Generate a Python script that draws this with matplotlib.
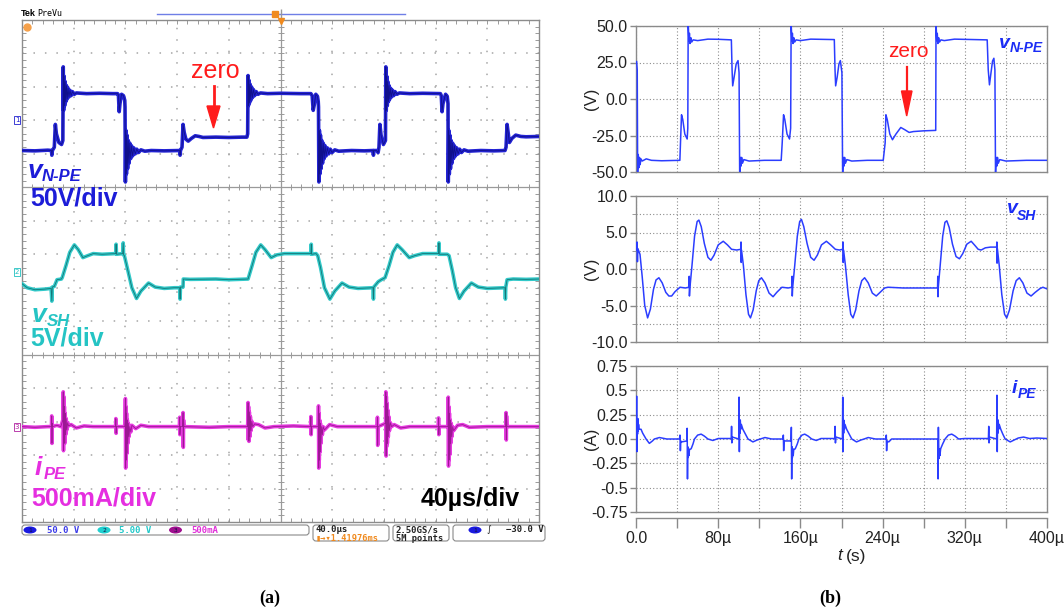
import numpy as np
import matplotlib
matplotlib.use('Agg')
import matplotlib.pyplot as plt
from matplotlib.patches import FancyBboxPatch, Ellipse, Polygon

# ---------------- DATA ----------------
# (a) oscilloscope traces: (time in us, value)
scope_vnpe = [
    (0, -45), (10, -45.5), (20, -44.5), (22.8, -45), (23.1, -52), (23.5, -45), (25.0, -40), (25.8, -6),
    (26.6, -20), (28.5, -33), (30.6, -36), (31.6, -30), (31.9, 80), (32.2, 15), (32.6, 66), (33.0, 22),
    (33.4, 58), (33.9, 28), (34.4, 52), (35.0, 32), (35.6, 48), (36.3, 35), (37.1, 45), (38.0, 37),
    (39.0, 43), (40.5, 39), (42, 41), (50, 40), (60, 40.5), (70, 40), (73.9, 40), (74.6, 38), (75.2, 13),
    (75.8, 25), (77, 39), (78.5, 37), (79.5, 30), (79.7, 20), (80.0, -92), (80.4, -15), (80.8, -80),
    (81.2, -22), (81.7, -72), (82.2, -30), (82.8, -64), (83.4, -34), (84.1, -57), (84.8, -38), (85.6, -53),
    (86.5, -41), (87.6, -50), (88.8, -43), (90.2, -48), (92, -44), (95, -46), (100, -45), (110, -45.5),
    (122.0, -45), (122.3, -52), (122.6, -45), (123.8, -40), (124.6, -6), (125.5, -18), (126.8, -28),
    (128.6, -31), (131, -27), (134, -23), (137, -24), (140, -25.5), (150, -25), (160, -25.5), (170, -25),
    (174.0, -25), (174.6, -20), (174.9, 67), (175.2, 22), (175.6, 60), (176.0, 26), (176.5, 54), (177.0, 30),
    (177.6, 50), (178.3, 34), (179.1, 46), (180.0, 37), (181.2, 43), (182.6, 39), (184.5, 41), (190, 40),
    (200, 40.5), (215, 40), (223.5, 40), (224.5, 37), (225.3, 15), (226.2, 24), (227.3, 39), (228.6, 36),
    (229.2, 28), (229.4, 20), (229.7, -92), (230.1, -15), (230.5, -80), (230.9, -22), (231.4, -72),
    (231.9, -30), (232.5, -64), (233.1, -34), (233.8, -57), (234.5, -38), (235.3, -53), (236.2, -41),
    (237.3, -50), (238.5, -43), (239.9, -48), (242, -44), (245, -46), (255, -45), (265, -45.5),
    (271.6, -45), (271.9, -52), (272.2, -45), (274.3, -45), (275.5, -48), (276.2, -40), (276.9, -6),
    (277.8, -22), (279.6, -36), (281.2, -30), (281.5, 80), (281.8, 15), (282.2, 66), (282.6, 22),
    (283.0, 58), (283.5, 28), (284.0, 52), (284.6, 32), (285.2, 48), (285.9, 35), (286.7, 45), (287.6, 37),
    (288.6, 43), (290.1, 39), (292, 41), (300, 40), (310, 40.5), (323.7, 40), (324.4, 37), (325.0, 13),
    (325.7, 25), (327.7, 39), (329.0, 36), (329.6, 25), (329.8, -92), (330.2, -15), (330.6, -80),
    (331.0, -22), (331.5, -72), (332.0, -30), (332.6, -64), (333.2, -34), (333.9, -57), (334.6, -38),
    (335.4, -53), (336.3, -41), (337.4, -50), (338.6, -43), (340.0, -48), (342, -44), (345, -46),
    (355, -45), (365, -45.5), (373.7, -45), (374.5, -40), (375.3, -6), (376.2, -20), (377.1, -33),
    (379, -27), (382, -22), (386, -24), (390, -24.5), (400, -24),
]
scope_vsh = [
    (0, -1.9), (4, -2.5), (10, -2.8), (18, -2.7), (22.5, -2.6), (23.1, -4.5), (23.4, -2.4), (25, -2.3),
    (27.1, -1.3), (30.5, -1.2), (31.1, -1.0), (34, 0.8), (37, 2.8), (40.5, 3.9), (43.5, 3.2), (47.1, 2.0),
    (51, 2.3), (55.1, 2.6), (62, 2.5), (72.5, 2.6), (72.8, 4.0), (73.1, 2.5), (77.9, 2.6), (78.3, 4.2),
    (78.6, 2.4), (79.2, 2.3), (82, 0.0), (85, -2.5), (88.6, -4.1), (92, -3.0), (97.9, -1.8), (103, -2.4),
    (110, -2.6), (118, -2.5), (122, -2.5), (122.3, -4.2), (122.6, -2.4), (124.6, -2.4), (124.8, -1.2),
    (130, -1.25), (150, -1.2), (160, -1.3), (174.9, -1.2), (178, 0.8), (181, 2.8), (184.7, 3.9),
    (188, 3.2), (192.8, 2.0), (197, 2.4), (203, 2.6), (215, 2.6), (223.5, 2.6), (223.8, 4.0), (224.1, 2.5),
    (227.5, 2.6), (228.8, 2.3), (231, 0.5), (234, -2.5), (238.2, -4.2), (242, -3.0), (247.6, -1.8),
    (253, -2.4), (260, -2.6), (271.6, -2.5), (271.9, -4.2), (272.2, -2.4), (275.6, -1.6), (278, -1.3),
    (280.9, -1.0), (284, 0.8), (287, 2.8), (290.3, 3.9), (294, 3.2), (299.6, 2.0), (304, 2.3), (310, 2.6),
    (322.3, 2.6), (322.6, 4.2), (322.9, 2.5), (329, 2.5), (330.4, 2.3), (333, 0.0), (335.5, -2.5),
    (338.4, -4.1), (342, -3.0), (347.7, -1.8), (353, -2.4), (360, -2.6), (373.7, -2.5), (374, -4.2),
    (374.3, -2.4), (375.3, -1.3), (380, -1.2), (390, -1.25), (400, -1.2),
]
scope_ipe = [
    (0, 0.0), (10, -0.01), (20, 0.0), (22.8, 0.0), (23.0, 0.16), (23.2, -0.25), (23.4, 0.05), (23.7, 0.0),
    (27, 0.02), (30, 0.0), (31.6, 0.1), (31.9, 0.52), (32.1, -0.36), (32.3, 0.45), (32.5, -0.2), (32.8, 0.3),
    (33.1, -0.25), (33.4, 0.2), (33.8, -0.12), (34.2, 0.12), (34.7, -0.05), (35.3, 0.06), (36, 0.01),
    (38, 0.03), (42, -0.02), (48, 0.01), (55, 0.0), (72.4, 0.0), (72.6, 0.12), (72.8, -0.1), (73.1, 0.0),
    (79.5, 0.0), (79.8, 0.1), (80.0, 0.42), (80.2, -0.62), (80.4, 0.3), (80.6, -0.5), (80.9, 0.2),
    (81.2, -0.4), (81.5, 0.1), (81.9, -0.25), (82.3, 0.05), (82.8, -0.15), (83.4, 0.0), (84.2, -0.08),
    (85, 0.02), (88, -0.03), (92, 0.02), (98, 0.0), (121.8, 0.0), (122.0, 0.14), (122.2, -0.12),
    (122.5, 0.0), (124.3, 0.0), (124.6, 0.21), (124.8, -0.31), (125.0, 0.1), (125.3, 0.0), (145, -0.01),
    (160, 0.0), (174.6, 0.0), (174.9, 0.36), (175.1, -0.2), (175.3, 0.3), (175.6, -0.22), (175.9, 0.22),
    (176.3, -0.15), (176.7, 0.15), (177.2, -0.06), (177.8, 0.08), (178.5, 0.0), (180, 0.04), (183, 0.03),
    (188, -0.02), (195, 0.0), (210, 0.01), (223.3, 0.0), (223.5, 0.15), (223.7, -0.12), (224.0, 0.0),
    (229.2, 0.0), (229.4, 0.31), (229.6, -0.62), (229.8, 0.2), (230.0, -0.5), (230.3, 0.1), (230.6, -0.38),
    (230.9, 0.05), (231.3, -0.25), (231.8, 0.0), (232.4, -0.12), (233, 0.0), (234, -0.05), (238, 0.03),
    (244, 0.0), (274.8, 0.0), (275.0, 0.14), (275.2, -0.28), (275.5, 0.0), (281.3, 0.05), (281.5, 0.52),
    (281.7, -0.44), (281.9, 0.45), (282.1, -0.3), (282.4, 0.35), (282.7, -0.25), (283.0, 0.25),
    (283.4, -0.15), (283.8, 0.15), (284.3, -0.06), (285, 0.06), (286, 0.0), (288, 0.03), (293, -0.02),
    (300, 0.0), (322.1, 0.0), (322.3, 0.13), (322.5, -0.12), (322.8, 0.0), (329.6, 0.0), (329.8, 0.44),
    (330.0, -0.59), (330.2, 0.3), (330.4, -0.5), (330.7, 0.2), (331.0, -0.42), (331.3, 0.1), (331.7, -0.25),
    (332.1, 0.05), (332.6, -0.15), (333.2, 0.0), (334, -0.06), (337, 0.02), (341, 0.03), (346, -0.01),
    (360, 0.0), (374.3, 0.0), (374.5, 0.21), (374.7, -0.2), (374.9, 0.16), (375.2, 0.0), (390, 0.0), (400, 0.0),
]

# (b) simulation traces: (time in us, value)
sim_vnpe = [
    (0.6, 25.6), (1.2, 20), (1.6, -50), (2.2, -38), (2.8, -47), (3.4, -40), (4.0, -45), (4.8, -41),
    (6, -42.5), (10, -41), (15, -42), (25, -42.3), (42.7, -42), (43.3, -30), (44.3, -10.8), (45.5, -14),
    (47.5, -24), (49.8, -27.4), (50.4, -20), (50.8, 52), (51.5, 40), (52, 45), (52.6, 38), (53.3, 42),
    (54.2, 39), (55.6, 40.5), (60, 40), (70, 41), (80, 40.9), (92.8, 40.5), (93.5, 20), (94.1, 9),
    (95.5, 15), (97.5, 24), (99.3, 26.3), (100.3, 18), (100.9, -52), (101.5, -40), (102.1, -46),
    (102.8, -40), (103.6, -44), (105, -41.5), (110, -42.5), (125, -42), (141.3, -42), (142.3, -30),
    (143.6, -10.8), (144.8, -14), (147, -24), (149.4, -27.4), (150.5, -20), (151.0, 52), (151.7, 40),
    (152.2, 45), (152.8, 38), (153.5, 42), (154.4, 39), (155.8, 40.5), (160, 40), (170, 41), (193, 40.7),
    (193.7, 20), (194.3, 9), (195.8, 15), (197.5, 24), (198.9, 26.3), (200.4, 18), (201.1, -52),
    (201.7, -40), (202.3, -46), (203.0, -40), (203.8, -44), (205.2, -41.5), (210, -42.5), (225, -42),
    (240.6, -42), (242.5, -30), (243.2, -10.8), (244.5, -14), (247, -24), (249.6, -27.9), (253, -24),
    (257.7, -19.5), (261.5, -21), (265.8, -22.9), (270, -22.3), (280, -21.8), (291.7, -21.5), (292.0, 52),
    (292.7, 40), (293.2, 45), (293.8, 38), (294.5, 42), (295.4, 39), (296.8, 40.5), (300, 40), (310, 41),
    (341.8, 40.5), (342.8, 20), (344, 9.7), (345.5, 18), (347, 26), (348.3, 27.9), (349.3, 20),
    (349.9, -52), (350.5, -40), (351.1, -46), (351.8, -40), (352.6, -44), (354, -41.5), (360, -42.5),
    (380, -42), (400, -42),
]
sim_vsh = [
    (0.6, 2.6), (1.0, 3.7), (1.4, 1.0), (1.8, 2.8), (2.3, 2.6), (3.9, 2.0), (6, -1.0), (8.5, -5.0),
    (11.3, -6.7), (14, -5.5), (17, -2.8), (19.5, -1.5), (22.3, -1.2), (25.5, -1.9), (29, -3.2), (32, -3.7),
    (34.7, -3.7), (38, -3.1), (42.8, -2.5), (48, -2.6), (51.5, -2.5), (51.8, -1.0), (52.0, -3.7),
    (52.5, -2.5), (54.5, 0.5), (57, 4.5), (59.5, 6.5), (61.2, 6.7), (63.5, 5.8), (66.5, 3.5), (70, 1.6),
    (72.9, 1.2), (76, 1.9), (80, 3.3), (84.9, 3.8), (89, 3.3), (93, 2.7), (98, 2.6), (102, 2.7),
    (102.2, 3.7), (102.4, 0.9), (102.7, 2.6), (104.5, 0.5), (107, -3.5), (109.5, -6.2), (111.4, -6.7),
    (114, -5.6), (117, -3.0), (119.5, -1.6), (122.1, -1.2), (125.5, -1.9), (129.5, -3.3), (133.4, -3.8),
    (137, -3.2), (142, -2.5), (148, -2.6), (151.6, -2.5), (151.9, -1.0), (152.1, -3.7), (152.5, -2.5),
    (154.5, 0.5), (157, 4.5), (159.3, 6.5), (161, 6.8), (163.3, 5.8), (166.5, 3.5), (170, 1.6),
    (173.3, 1.2), (176.5, 1.9), (180.5, 3.3), (185.3, 3.8), (189.5, 3.3), (194, 2.7), (198, 2.6),
    (201.3, 2.7), (201.5, 3.7), (201.7, 0.9), (202, 2.6), (203.8, 0.5), (206.5, -3.5), (209, -6.2),
    (211.2, -6.7), (213.8, -5.6), (217, -3.0), (219.7, -1.6), (222.5, -1.2), (226, -1.9), (230, -3.3),
    (233.8, -3.7), (237.5, -3.2), (242, -2.6), (245.2, -2.5), (260, -2.6), (280, -2.6), (293.5, -2.6),
    (293.7, -1.0), (293.9, -3.8), (294.2, -2.5), (296, 0.5), (298.5, 4.5), (300.7, 6.4), (302.5, 6.6),
    (304.8, 5.7), (308, 3.4), (311.5, 1.7), (314.8, 1.4), (318, 2.1), (322, 3.4), (326.2, 3.8),
    (330, 3.2), (333, 2.7), (335.9, 2.6), (340, 2.9), (345, 3.0), (351, 3.0), (351.2, 3.7), (351.4, 0.8),
    (351.7, 2.8), (353.5, 0.5), (356, -3.5), (358.7, -6.2), (360.8, -6.7), (363.5, -5.6), (367, -3.0),
    (370, -1.6), (373.1, -1.2), (376.5, -1.9), (380.5, -3.3), (384.5, -3.7), (388.5, -3.2), (393, -2.7),
    (396, -2.5), (399.5, -2.7),
]
sim_ipe = [
    (0.3, 0.0), (0.6, 0.44), (0.9, -0.13), (1.2, 0.2), (1.5, 0.05), (1.8, 0.21), (2.1, 0.08), (2.5, 0.15),
    (3, 0.1), (4.9, 0.1), (6.5, 0.06), (9.8, 0.0), (13, -0.045), (16, -0.02), (17.9, 0.0), (22.8, 0.015),
    (30, 0.0), (42.3, 0.0), (42.8, 0.04), (43.2, -0.12), (43.6, -0.02), (44.2, -0.03), (49.5, -0.02),
    (49.8, 0.11), (50.1, -0.41), (50.4, -0.08), (50.8, -0.19), (51.2, -0.1), (51.6, -0.17), (52, -0.11),
    (53.7, -0.1), (55.5, -0.05), (56.9, 0.0), (60, 0.04), (63.4, 0.05), (66.5, 0.03), (70, 0.0),
    (74.8, -0.015), (80, 0.005), (92.7, 0.005), (93.0, 0.13), (93.3, -0.04), (93.7, 0.02), (100.0, 0.0),
    (100.3, 0.43), (100.6, -0.13), (100.9, 0.2), (101.2, 0.06), (101.5, 0.19), (101.9, 0.1), (102.5, 0.15),
    (104, 0.1), (106.5, 0.05), (109, 0.0), (113.8, -0.03), (118, -0.01), (121, 0.0), (125.5, 0.015),
    (132, 0.0), (143, 0.0), (143.4, 0.04), (143.7, -0.12), (144.1, -0.02), (150.9, -0.02), (151.2, 0.12),
    (151.5, -0.41), (151.8, -0.08), (152.2, -0.19), (152.6, -0.1), (153, -0.17), (153.5, -0.11),
    (155, -0.1), (157, -0.05), (158.5, 0.0), (161.5, 0.04), (164.2, 0.05), (167.5, 0.03), (171, 0.0),
    (175.5, -0.015), (180, 0.005), (193.5, 0.005), (193.8, 0.13), (194.1, -0.04), (194.5, 0.02),
    (200.9, 0.0), (201.2, 0.43), (201.5, -0.13), (201.8, 0.2), (202.1, 0.06), (202.4, 0.19), (202.8, 0.1),
    (203.4, 0.15), (205, 0.1), (207.5, 0.05), (210, 0.0), (214.6, -0.03), (219, -0.01), (222, 0.0),
    (226, 0.015), (233, 0.0), (243.3, 0.0), (243.6, 0.04), (243.9, -0.12), (244.3, -0.02), (246, -0.03),
    (248.8, 0.0), (260, 0.0), (293.7, 0.0), (294.0, -0.41), (294.3, 0.12), (294.6, -0.1), (294.9, -0.2),
    (295.3, -0.1), (295.8, -0.17), (296.5, -0.1), (298.5, -0.05), (300.8, 0.0), (304, 0.04), (307.3, 0.05),
    (310.5, 0.03), (314, 0.0), (320, 0.005), (343, 0.005), (343.3, 0.13), (343.6, -0.04), (344, 0.02),
    (351.0, 0.0), (351.3, 0.45), (351.6, -0.13), (351.9, 0.2), (352.2, 0.06), (352.5, 0.19), (352.9, 0.1),
    (353.5, 0.15), (355, 0.1), (357, 0.05), (359.3, 0.0), (364.2, -0.03), (368, -0.01), (372, 0.01),
    (377.2, 0.02), (383, 0.005), (390, 0.01), (400, 0.005),
]

# scope settings (per division) and channel reference levels (divisions from bottom)
scope_scales = [50.0, 5.0, 0.5]
scope_offsets = [12.0, 7.5, 2.85]

# (b) axis ticks / labels
vnpe_ticks = [-50, -25, 0, 25, 50]
vnpe_labels = ['-50.0', '-25.0', '0.0', '25.0', '50.0']
vsh_ticks = [-10, -5, 0, 5, 10]
vsh_labels = ['-10.0', '-5.0', '0.0', '5.0', '10.0']
ipe_ticks = [-0.75, -0.5, -0.25, 0, 0.25, 0.5, 0.75]
ipe_labels = ['-0.75', '-0.5', '-0.25', '0.0', '0.25', '0.5', '0.75']
t_ticks = [0, 40, 80, 120, 160, 200, 240, 280, 320, 360, 400]
t_labels = ['0.0', '', '80\u00b5', '', '160\u00b5', '', '240\u00b5', '', '320\u00b5', '', '400\u00b5']

# ---------------- FIGURE ----------------
W, H = 1064, 615
fig = plt.figure(figsize=(W / 100, H / 100), dpi=100)
fig.patch.set_facecolor('white')


def fbox(x0, y0, x1, y1):
    return [x0 / W, 1 - y1 / H, (x1 - x0) / W, (y1 - y0) / H]


def xy(series):
    a = np.array(series, dtype=float)
    return a[:, 0], a[:, 1]


# ---------- (a) scope screen ----------
axA = fig.add_axes(fbox(22, 20, 539, 522))
axA.set_xlim(0, 400)
axA.set_ylim(0, 15)
for s in axA.spines.values():
    s.set_color('#8c8c8c')
    s.set_linewidth(1.0)
axA.set_xticks(np.arange(0, 401, 8), minor=True)
axA.set_yticks(np.arange(0, 15.01, 0.2), minor=True)
axA.set_xticks([])
axA.set_yticks([])
axA.tick_params(which='minor', direction='in', length=3, color='#9a9a9a', width=0.7,
                top=True, right=True, labelbottom=False, labelleft=False)
gcol = '#a5a5a5'
for k in range(1, 10):
    if k == 5:
        axA.axvline(200, color='#9a9a9a', lw=0.9, zorder=1)
    else:
        axA.axvline(40 * k, color=gcol, lw=1.1, ls=(0, (1, 6.5)), zorder=1)
for k in range(1, 15):
    if k in (5, 10):
        axA.axhline(k, color='#9a9a9a', lw=0.9, zorder=1)
    else:
        axA.axhline(k, color=gcol, lw=1.1, ls=(0, (1, 6.5)), zorder=1)
tk_y = np.arange(0.2, 15, 0.2)
axA.plot(np.full(tk_y.shape, 200.0), tk_y, ls='none', marker='_', ms=5, mew=0.7, color='#9a9a9a', zorder=1)
tk_x = np.arange(8, 400, 8)
for yy in (5, 10):
    axA.plot(tk_x, np.full(tk_x.shape, float(yy)), ls='none', marker='|', ms=5, mew=0.7,
             color='#9a9a9a', zorder=1)

chan_styles = [('#2323d4', '#0c0c7a'), ('#33c9c9', '#0b6262'), ('#e63be0', '#8a1080')]
for series, sc, off, (c1, c2) in zip([scope_vnpe, scope_vsh, scope_ipe], scope_scales, scope_offsets,
                                     chan_styles):
    t, v = xy(series)
    yd = off + v / sc
    axA.plot(t, yd, color=c1, lw=2.6, solid_joinstyle='round', zorder=3)
    axA.plot(t, yd, color=c2, lw=0.6, alpha=0.8, zorder=4)

# ---------- (b) simulation ----------
frame_col = '#8a8a8a'
sim_col = '#2b3dff'
b_font = ['Liberation Sans Narrow', 'Liberation Sans']
axes_b = []
for (y0, y1), series, ticks, labels, minor in [
        ((26, 172), sim_vnpe, vnpe_ticks, vnpe_labels, None),
        ((196, 342), sim_vsh, vsh_ticks, vsh_labels, 2.5),
        ((366, 512), sim_ipe, ipe_ticks, ipe_labels, None)]:
    ax = fig.add_axes(fbox(636, y0, 1047, y1))
    ax.set_xlim(0, 400)
    ax.set_ylim(ticks[0], ticks[-1])
    for s in ax.spines.values():
        s.set_color(frame_col)
        s.set_linewidth(1.0)
    ax.set_yticks(ticks)
    ax.set_yticklabels(labels, family=b_font, fontsize=11.5, color='#222222')
    if minor:
        ax.set_yticks(np.arange(ticks[0], ticks[-1] + 0.01, minor), minor=True)
        ax.tick_params(axis='y', which='minor', length=3, color=frame_col)
        ax.grid(True, axis='y', which='minor', color='#8c8c8c', lw=0.8, ls=(0, (1, 2)))
    ax.set_xticks(t_ticks)
    ax.grid(True, which='major', color='#8c8c8c', lw=0.8, ls=(0, (1, 2)))
    ax.tick_params(axis='y', which='major', length=4, width=1, color=frame_col, pad=2)
    t, v = xy(series)
    ax.plot(t, v, color=sim_col, lw=1.1, zorder=3)
    axes_b.append(ax)

for ax in axes_b[:2]:
    ax.tick_params(axis='x', length=0, labelbottom=False)
ax3 = axes_b[2]
ax3.spines['bottom'].set_position(('outward', 4))
ax3.axhline(-0.75, color=frame_col, lw=1.0, clip_on=False, zorder=2)
ax3.set_xticklabels(t_labels, family=b_font, fontsize=11.5, color='#222222')
ax3.tick_params(axis='x', length=7, width=1, color=frame_col, pad=3)

# ---------- text overlay in pixel coordinates ----------
axP = fig.add_axes([0, 0, 1, 1])
axP.set_xlim(0, W)
axP.set_ylim(H, 0)
axP.axis('off')

SANS = 'Liberation Sans'


def sublabel(x, y, main, sub, color, s1, s2, xs, ys):
    axP.text(x, y, main, color=color, fontsize=s1, fontweight='bold', fontstyle='italic',
             family=SANS, va='baseline', ha='left')
    axP.text(xs, ys, sub, color=color, fontsize=s2, fontweight='bold', fontstyle='italic',
             family=SANS, va='baseline', ha='left')


# scope labels
blue_a, cyan_a, mag_a = '#1c1cd8', '#25c4c4', '#e52ee0'
sublabel(28, 178, 'v', 'N-PE', blue_a, 19, 12, 42, 181)
axP.text(30, 206, '50V/div', color=blue_a, fontsize=18, fontweight='bold', family=SANS, va='baseline')
sublabel(32, 322, 'v', 'SH', cyan_a, 19, 12, 47, 326)
axP.text(30, 346, '5V/div', color=cyan_a, fontsize=18, fontweight='bold', family=SANS, va='baseline')
sublabel(35, 475, 'i', 'PE', mag_a, 19, 12, 44, 479)
axP.text(31, 506, '500mA/div', color=mag_a, fontsize=18, fontweight='bold', family=SANS, va='baseline')
axP.text(421, 506, '40\u00b5s/div', color='black', fontsize=18, fontweight='bold', family=SANS, va='baseline')
axP.text(191, 78, 'zero', color='#ff1c1c', fontsize=18, family=SANS, va='baseline')
axP.plot([213.5, 213.5], [86, 108], color='#ff1c1c', lw=2)
axP.add_patch(Polygon([(207, 106), (220, 106), (213.5, 128)], closed=True, color='#ff1c1c'))

# scope chrome
axP.text(21, 16, 'Tek', fontsize=6.5, fontweight='bold', family=SANS, va='baseline')
axP.text(37, 16, 'PreVu', fontsize=6, family='DejaVu Sans Mono', va='baseline')
axP.plot([157, 405], [14, 14], color='#6f7fe6', lw=1)
axP.plot([275], [14], marker='s', ms=4, color='#f08a1e')
axP.plot([281], [14], marker='|', ms=7, color='#999999')
axP.plot([281], [21], marker='v', ms=4, color='#f08a1e')
axP.plot([27], [27], marker='o', ms=5, color='#f5a04a')
for yy, col, lab in [(120.4, '#2020d0', '1'), (272, '#20c0c0', '2'), (427, '#b020a0', '3')]:
    axP.text(17, yy, lab, fontsize=5, color=col, ha='center', va='center', family='DejaVu Sans',
             bbox=dict(boxstyle='square,pad=0.15', fc='white', ec=col, lw=0.6))

# status bar
mono = 'DejaVu Sans Mono'
for x0, x1, y0, y1 in [(22, 309, 525, 535), (313, 389, 525, 541), (393, 449, 525, 541), (453, 545, 525, 541)]:
    axP.add_patch(FancyBboxPatch((x0, y0), x1 - x0, y1 - y0, boxstyle='round,pad=0,rounding_size=3',
                                 fc='white', ec='#8a8a8a', lw=0.8))
for cx, fc, lab, tx, txt, tc in [(30, '#1a1ae0', '1', 47, '50.0 V', '#3a3ae8'),
                                  (104, '#20d0d0', '2', 119, '5.00 V', '#20c8c8'),
                                  (175.5, '#a0108f', '3', 191, '500mA', '#e030d8')]:
    axP.add_patch(Ellipse((cx, 530), 13, 7, fc=fc, ec='none'))
    axP.text(cx, 530.3, lab, fontsize=4.5, color='#101040', ha='center', va='center', family=mono)
    axP.text(tx, 530.3, txt, fontsize=6.5, color=tc, ha='left', va='center', family=mono, fontweight='bold')
axP.text(316, 530, '40.0\u00b5s', fontsize=6.5, color='#222222', va='center', family=mono, fontweight='bold')
axP.text(316, 538.5, '\u25ae\u2192\u25be1.41976ms', fontsize=6.2, color='#f08a1e', va='center', family=mono,
         fontweight='bold')
axP.text(396, 530, '2.50GS/s', fontsize=6.5, color='#222222', va='center', family=mono, fontweight='bold')
axP.text(396, 538.5, '5M points', fontsize=6.2, color='#222222', va='center', family=mono, fontweight='bold')
axP.add_patch(Ellipse((475, 530), 13, 7, fc='#1a1ae0', ec='none'))
axP.text(475, 530.3, '1', fontsize=4.5, color='#101040', ha='center', va='center', family=mono)
axP.text(489, 530, '\u222b', fontsize=6.5, color='#222222', ha='center', va='center', family='DejaVu Sans')
axP.text(506, 530, '\u221230.0 V', fontsize=6.5, color='#222222', va='center', family=mono, fontweight='bold')

# simulation labels
blue_b = '#1a2cf5'
sublabel(999, 48, 'v', 'N-PE', blue_b, 14, 10, 1010, 52)
sublabel(1007, 213, 'v', 'SH', blue_b, 14, 10, 1017, 220)
sublabel(1012, 393, 'i', 'PE', blue_b, 14, 10, 1018, 398)
axP.text(888, 57, 'zero', color='#ff1c1c', fontsize=15, family=SANS, va='baseline')
axP.plot([906.7, 906.7], [67, 93], color='#ff1c1c', lw=1.6)
axP.add_patch(Polygon([(901.5, 91), (912, 91), (906.7, 116)], closed=True, color='#ff1c1c'))
for yy, lab in [(99, '(V)'), (269, '(V)'), (439, '(A)')]:
    axP.text(591, yy, lab, rotation=90, ha='center', va='center', fontsize=12, family=b_font, color='#222222')
axP.text(842, 556, 't', fontstyle='italic', ha='right', va='center', fontsize=12.5, family=b_font,
         color='#222222')
axP.text(846, 556, '(s)', ha='left', va='center', fontsize=12.5, family=b_font, color='#222222')

# panel captions
axP.text(270, 598, '(a)', ha='center', va='center', fontsize=13, family='Liberation Serif', fontweight='bold')
axP.text(830, 598, '(b)', ha='center', va='center', fontsize=13, family='Liberation Serif', fontweight='bold')

fig.savefig('out.png', dpi=100)
